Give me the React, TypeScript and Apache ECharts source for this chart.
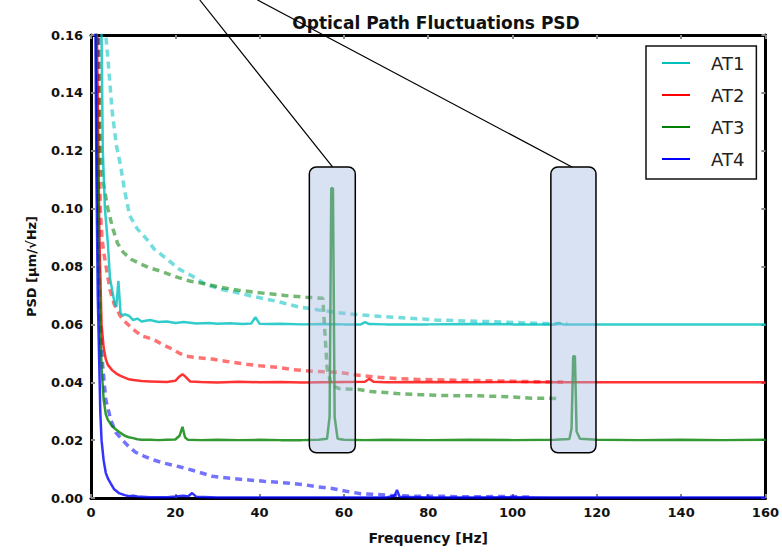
import React, { useEffect, useRef } from "react";
import * as echarts from "echarts";

type P = [number, number];

const TITLE = "Optical Path Fluctuations PSD";
const X_NAME = "Frequency [Hz]";
const Y_NAME = "PSD [µm/√Hz]";
const legendNames = ["AT1", "AT2", "AT3", "AT4"];
const solidColors = ["#00bfbf", "#ff0000", "#008000", "#0000ff"];

// Solid traces (frequency Hz, PSD)
const at1Solid: P[] = [
  [0.5, 0.3], [1, 0.25], [2, 0.19], [2.5, 0.16], [2.8, 0.12], [3.3, 0.1], [4, 0.088], [4.5, 0.076],
  [5, 0.072], [5.5, 0.068], [6, 0.066], [6.5, 0.075], [7, 0.064], [7.5, 0.063], [8, 0.0635], [9, 0.063],
  [10, 0.0615], [11, 0.062], [12, 0.061], [14, 0.0615], [16, 0.0608], [18, 0.061], [20, 0.0605],
  [22, 0.0608], [25, 0.0603], [28, 0.0605], [30, 0.0602], [33, 0.0604], [36, 0.0601], [38, 0.0603],
  [39, 0.0625], [40, 0.0602], [42, 0.0601], [45, 0.0602], [50, 0.06], [55, 0.0601], [60, 0.06],
  [64, 0.06], [65, 0.0608], [66, 0.0601], [70, 0.06], [80, 0.06], [90, 0.0601], [100, 0.06],
  [110, 0.06], [111, 0.0605], [112, 0.06], [120, 0.06], [130, 0.06], [140, 0.06], [150, 0.06], [160, 0.06],
];
const at2Solid: P[] = [
  [0.5, 0.3], [1, 0.22], [1.5, 0.15], [2, 0.09], [2.5, 0.06], [3, 0.052], [3.5, 0.048], [4, 0.046],
  [5, 0.0442], [6, 0.043], [7, 0.0422], [8, 0.0416], [9, 0.041], [10, 0.0408], [12, 0.0404],
  [14, 0.0403], [16, 0.0402], [18, 0.0401], [20, 0.0405], [21, 0.042], [21.7, 0.0428], [22.5, 0.0418],
  [23.5, 0.0403], [26, 0.0401], [30, 0.0399], [35, 0.0402], [40, 0.04], [45, 0.0401], [50, 0.0399],
  [55, 0.04], [60, 0.0401], [65, 0.0402], [66, 0.0412], [67, 0.0402], [70, 0.04], [80, 0.0401],
  [90, 0.04], [100, 0.0401], [110, 0.04], [120, 0.04], [130, 0.04], [140, 0.04], [150, 0.04], [160, 0.04],
];
const at3Solid: P[] = [
  [0.5, 0.3], [1, 0.2], [1.5, 0.12], [2, 0.07], [2.5, 0.045], [3, 0.034], [3.5, 0.029], [4, 0.027],
  [5, 0.0248], [6, 0.0236], [7, 0.0225], [8, 0.0215], [9, 0.021], [10, 0.0207], [11, 0.0203],
  [12, 0.0201], [14, 0.0201], [16, 0.02], [18, 0.0201], [20, 0.0202], [21, 0.0215], [21.7, 0.0246],
  [22.3, 0.021], [23, 0.0201], [26, 0.02], [30, 0.0201], [35, 0.02], [40, 0.0201], [45, 0.02],
  [50, 0.02], [54, 0.0201], [56, 0.0205], [56.6, 0.028], [57.0, 0.107], [57.4, 0.107], [57.8, 0.028],
  [58.5, 0.0205], [60, 0.0201], [65, 0.02], [70, 0.0201], [80, 0.02], [90, 0.0201], [100, 0.02],
  [110, 0.0201], [113.5, 0.0204], [114, 0.024], [114.4, 0.049], [114.8, 0.049], [115.2, 0.023],
  [116, 0.0205], [120, 0.0201], [130, 0.02], [140, 0.0201], [150, 0.02], [160, 0.0201],
];
const at4Solid: P[] = [
  [0.5, 0.3], [1, 0.17], [1.3, 0.11], [1.6, 0.07], [1.9, 0.05], [2.2, 0.03], [2.5, 0.02], [3, 0.013],
  [3.5, 0.0087], [4, 0.0068], [4.7, 0.005], [5.5, 0.003], [6.6, 0.0017], [8, 0.001], [9, 0.0006],
  [10, 0.0008], [11, 0.0005], [14, 0.0003], [18, 0.0003], [20, 0.0005], [22, 0.0008], [23, 0.0005],
  [24, 0.0017], [25, 0.0004], [30, 0.0002], [40, 0.0002], [50, 0.0002], [60, 0.0002], [70, 0.0002],
  [72, 0.0008], [72.6, 0.0028], [73.2, 0.0004], [80, 0.0002], [90, 0.0002], [100, 0.0003],
  [110, 0.0002], [120, 0.0002], [140, 0.0002], [160, 0.0002],
];

// Dashed (lighter) traces
const at1Dashed: P[] = [
  [1.5, 0.3], [2.5, 0.2], [3, 0.17], [3.5, 0.16], [4, 0.152], [5, 0.134], [6, 0.122], [7, 0.115],
  [8, 0.106], [9.2, 0.0975], [11, 0.093], [13.2, 0.0895], [15, 0.086], [18, 0.0826], [21, 0.079],
  [24, 0.0767], [27, 0.074], [30.5, 0.0722], [34, 0.0712], [38, 0.0698], [44, 0.068], [49.4, 0.066],
  [54, 0.065], [58.9, 0.064], [63, 0.0634], [68.3, 0.0628], [74.7, 0.0622], [81.8, 0.0615],
  [91.3, 0.0611], [98, 0.0608], [105, 0.0604], [111, 0.0602], [113, 0.0603],
];
const at2Dashed: P[] = [
  [1, 0.3], [1.5, 0.2], [2, 0.12], [2.2, 0.1], [2.6, 0.09], [3, 0.085], [4.5, 0.072], [5.5, 0.067],
  [6.9, 0.063], [8, 0.061], [10, 0.0583], [12, 0.056], [14.7, 0.0549], [17, 0.053], [19.4, 0.0514],
  [21, 0.05], [22.7, 0.049], [25, 0.0485], [28.8, 0.048], [33, 0.047], [36.9, 0.0462], [40, 0.0457],
  [44.7, 0.0451], [47.8, 0.0444], [52.5, 0.0438], [58.9, 0.0434], [63, 0.0425], [68.3, 0.0417],
  [73, 0.0412], [77, 0.041], [84, 0.0408], [91.3, 0.0406], [98, 0.0404], [105, 0.0402], [112, 0.0401],
];
const at3Dashed: P[] = [
  [1, 0.3], [1.5, 0.2], [2, 0.14], [2.1, 0.128], [2.8, 0.11], [4, 0.1], [5.2, 0.093], [6.3, 0.088],
  [7.6, 0.085], [9.5, 0.0825], [11.6, 0.081], [14, 0.0795], [16.3, 0.0785], [20, 0.0765],
  [23.4, 0.075], [27, 0.074], [30.5, 0.0729], [35, 0.0718], [40.7, 0.0708], [46, 0.07], [51, 0.0694],
  [53, 0.0692], [55, 0.069], [56, 0.045], [57, 0.039], [58.9, 0.0378], [63.6, 0.0375], [66.4, 0.0368],
  [72.6, 0.0361], [78, 0.0357], [84, 0.0354], [92, 0.0353], [99, 0.035], [104.5, 0.0345], [111, 0.0344],
];
const at4Dashed: P[] = [
  [1, 0.3], [1.5, 0.15], [1.8, 0.09], [2.1, 0.065], [2.5, 0.052], [2.8, 0.045], [3.5, 0.034],
  [4.7, 0.027], [5.9, 0.0226], [7.5, 0.02], [9, 0.0177], [10.6, 0.0158], [12.5, 0.0145], [14.7, 0.0132],
  [17.5, 0.012], [21, 0.0108], [25, 0.0092], [28.8, 0.0075], [33, 0.0068], [36.9, 0.0063], [41, 0.0058],
  [46.3, 0.0052], [51, 0.0045], [54, 0.0038], [57.2, 0.0033], [61, 0.0022], [64, 0.0015], [68, 0.0012],
  [72, 0.0008], [78, 0.0006], [84, 0.0006], [88, 0.0004], [96, 0.0005], [100, 0.0005], [104, 0.0003],
];

// Highlight boxes (data units) and callout line origins (data units, above the plot)
const boxRanges = [
  { x0: 51.8, x1: 62.7, y0: 0.0156, y1: 0.1144, anchorX: 57.3 },
  { x0: 109.1, x1: 119.8, y0: 0.0156, y1: 0.1144, anchorX: 114.1 },
];
const calloutOrigins: P[] = [[25.8, 0.1721], [39.5, 0.1721]];

const FONT = "DejaVu Sans";

export default function App() {
  const ref = useRef<HTMLDivElement>(null);
  useEffect(() => {
    const chart = echarts.init(ref.current!, null, { renderer: "svg" });
    const solids = [at1Solid, at2Solid, at3Solid, at4Solid];
    const dashes = [at1Dashed, at2Dashed, at3Dashed, at4Dashed];
    const series: any[] = [];
    dashes.forEach((d, i) => {
      series.push({
        type: "line",
        name: legendNames[i] + " (b)",
        data: d,
        showSymbol: false,
        silent: true,
        z: 2,
        itemStyle: { color: solidColors[i] },
        lineStyle: { color: solidColors[i], width: 3.5, type: [7, 5], opacity: 0.55 },
      });
    });
    solids.forEach((d, i) => {
      series.push({
        type: "line",
        name: legendNames[i],
        data: d,
        showSymbol: false,
        z: 3,
        itemStyle: { color: solidColors[i] },
        lineStyle: { color: solidColors[i], width: 2.5, opacity: 0.8 },
      });
    });
    const axisLine = { onZero: false, lineStyle: { color: "#000", width: 3 } };
    const axisTick = { inside: true, length: 4, lineStyle: { color: "#888", width: 2 } };
    const labelStyle = { fontFamily: FONT, fontWeight: "bold" as const, fontSize: 13, color: "#111" };
    chart.setOption({
      animation: false,
      backgroundColor: "#fff",
      title: {
        text: TITLE,
        left: 431,
        top: 9,
        textAlign: "center",
        textStyle: { fontFamily: FONT, fontWeight: "bold", fontSize: 17, color: "#111" },
      },
      grid: { left: 91, right: 15, top: 35, bottom: 55 },
      legend: {
        data: legendNames,
        orient: "vertical",
        left: 646,
        top: 46,
        padding: [8, 12, 11, 16],
        itemGap: 14,
        itemWidth: 28,
        itemHeight: 2,
        icon: "rect",
        backgroundColor: "#fff",
        borderColor: "#111",
        borderWidth: 1.5,
        z: 20,
        textStyle: { fontFamily: FONT, fontSize: 18, color: "#222", lineHeight: 18, padding: [0, 0, 0, 16] },
      },
      xAxis: [
        {
          type: "value", min: 0, max: 160, interval: 20, position: "bottom",
          axisLine, axisTick, splitLine: { show: false },
          axisLabel: { ...labelStyle, margin: 8 },
          name: X_NAME, nameLocation: "middle", nameGap: 33,
          nameTextStyle: { fontFamily: FONT, fontWeight: "bold", fontSize: 14, color: "#111" },
        },
        {
          type: "value", min: 0, max: 160, interval: 20, position: "top",
          axisLine, axisTick, splitLine: { show: false }, axisLabel: { show: false },
        },
      ],
      yAxis: [
        {
          type: "value", min: 0, max: 0.16, interval: 0.02, position: "left",
          axisLine, axisTick, splitLine: { show: false },
          axisLabel: { ...labelStyle, margin: 8, formatter: (v: number) => v.toFixed(2) },
          name: Y_NAME, nameLocation: "middle", nameGap: 53,
          nameTextStyle: { fontFamily: FONT, fontWeight: "bold", fontSize: 13, color: "#111" },
        },
        {
          type: "value", min: 0, max: 0.16, interval: 0.02, position: "right",
          axisLine, axisTick, splitLine: { show: false }, axisLabel: { show: false },
        },
      ],
      series,
    });

    const toPx = (p: P) => chart.convertToPixel({ xAxisIndex: 0, yAxisIndex: 0 }, p) as number[];
    const graphics: any[] = [];
    boxRanges.forEach((b, i) => {
      const tl = toPx([b.x0, b.y1]);
      const br = toPx([b.x1, b.y0]);
      const anchor = toPx([b.anchorX, b.y1]);
      const origin = toPx(calloutOrigins[i]);
      graphics.push({
        type: "rect",
        z: 10,
        silent: true,
        shape: { x: tl[0], y: tl[1], width: br[0] - tl[0], height: br[1] - tl[1], r: 7 },
        style: { fill: "rgba(165,185,225,0.42)", stroke: "#000", lineWidth: 1.5 },
      });
      graphics.push({
        type: "line",
        z: 11,
        silent: true,
        shape: { x1: origin[0], y1: origin[1], x2: anchor[0], y2: anchor[1] },
        style: { stroke: "#000", lineWidth: 1.2 },
      });
    });
    chart.setOption({ graphic: graphics });
    return () => chart.dispose();
  }, []);
  return <div ref={ref} style={{ position: "fixed", left: 0, top: 0, width: 782, height: 553 }} />;
}
